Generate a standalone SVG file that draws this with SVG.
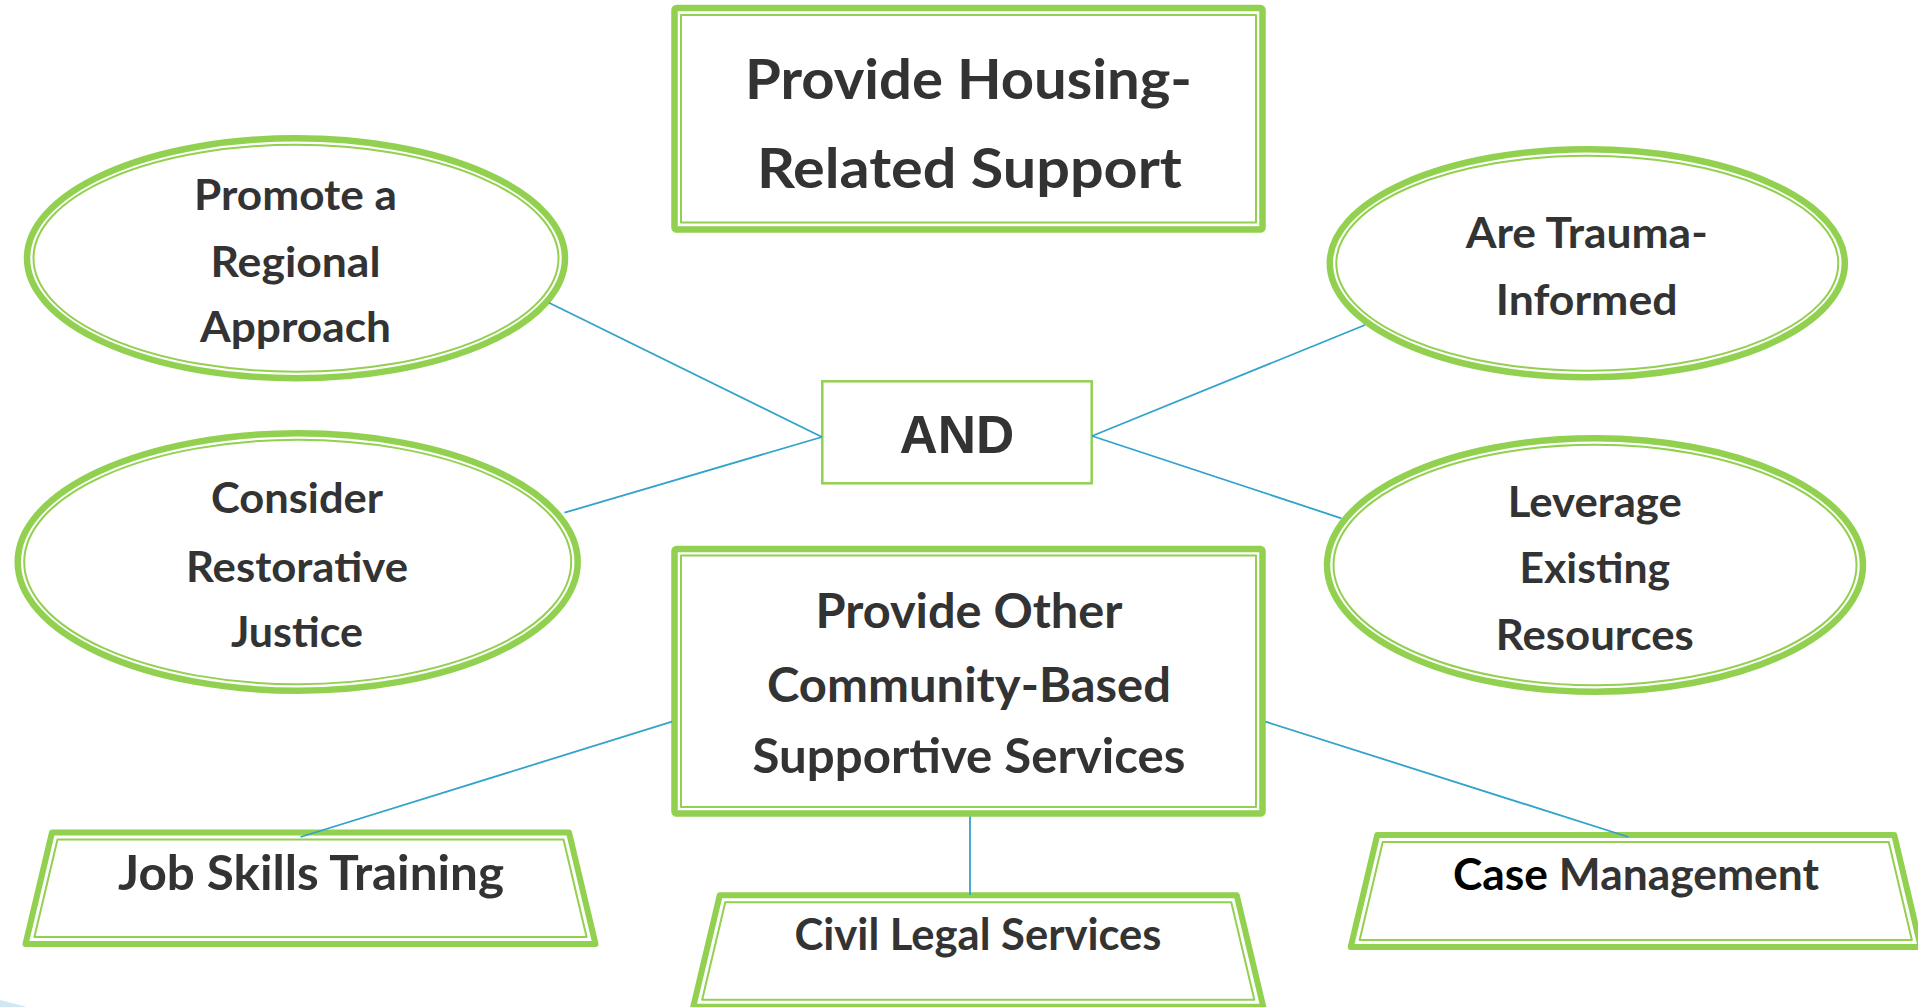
<svg xmlns="http://www.w3.org/2000/svg" width="1918" height="1007" viewBox="0 0 1918 1007">
<style>
 .outer{fill:#fff;stroke:#92D050;stroke-width:6.5;stroke-linejoin:round}
 .inner{fill:none;stroke:#92D050;stroke-width:2;stroke-linejoin:round}
 .trap{fill:#fff;stroke:#92D050;stroke-width:6;stroke-linejoin:round}
 .conn{stroke:#31A3CB;stroke-width:1.8;fill:none}
 .t{font-family:Lato,"Open Sans",sans-serif;font-weight:700;fill:#333333;text-anchor:middle}
 .and{font-family:"Liberation Sans",Arial,sans-serif;font-weight:700;font-size:53px;fill:#333333;text-anchor:middle}
</style>
<rect width="1918" height="1007" fill="#ffffff"/>
<polygon points="0,1000 27,1007 0,1007" fill="#CFE8F2"/>
<g id="node-housing">
 <rect class="outer" x="674.5" y="8" width="588" height="221.5" rx="2"/>
 <rect class="inner" x="681" y="15" width="575" height="207.5"/>
 <text class="t" font-size="56" x="968.5" y="99" textLength="447" lengthAdjust="spacingAndGlyphs">Provide Housing-</text>
 <text class="t" font-size="56" x="969.4" y="188.3" textLength="425" lengthAdjust="spacingAndGlyphs">Related Support</text>
</g>
<g id="node-regional">
 <ellipse class="outer" cx="296" cy="258.3" rx="269" ry="120"/>
 <ellipse class="inner" cx="296" cy="258.3" rx="262.5" ry="113.5"/>
 <text class="t" font-size="42" x="295.5" y="210" textLength="203" lengthAdjust="spacingAndGlyphs">Promote a</text>
 <text class="t" font-size="42" x="295.5" y="276.7" textLength="170" lengthAdjust="spacingAndGlyphs">Regional</text>
 <text class="t" font-size="42" x="295.5" y="341.7" textLength="191" lengthAdjust="spacingAndGlyphs">Approach</text>
</g>
<g id="node-restorative">
 <ellipse class="outer" cx="297.7" cy="562" rx="280" ry="128.7"/>
 <ellipse class="inner" cx="297.7" cy="562" rx="273.5" ry="122.2"/>
 <text class="t" font-size="42" x="297" y="513.3" textLength="172" lengthAdjust="spacingAndGlyphs">Consider</text>
 <text class="t" font-size="42" x="297" y="581.7" textLength="222" lengthAdjust="spacingAndGlyphs">Restorative</text>
 <text class="t" font-size="42" x="297" y="646.7" textLength="132" lengthAdjust="spacingAndGlyphs">Justice</text>
</g>
<g id="node-trauma">
 <ellipse class="outer" cx="1587.3" cy="263.3" rx="257.5" ry="114"/>
 <ellipse class="inner" cx="1587.3" cy="263.3" rx="251" ry="107.5"/>
 <text class="t" font-size="42" x="1586.7" y="248.3" textLength="242" lengthAdjust="spacingAndGlyphs">Are Trauma-</text>
 <text class="t" font-size="42" x="1586.7" y="315" textLength="181.7" lengthAdjust="spacingAndGlyphs">Informed</text>
</g>
<g id="node-leverage">
 <ellipse class="outer" cx="1595" cy="565" rx="268" ry="126.7"/>
 <ellipse class="inner" cx="1595" cy="565" rx="261.5" ry="120.2"/>
 <text class="t" font-size="42" x="1594.8" y="516.7" textLength="174" lengthAdjust="spacingAndGlyphs">Leverage</text>
 <text class="t" font-size="42" x="1594.8" y="583.3" textLength="150.6" lengthAdjust="spacingAndGlyphs">Existing</text>
 <text class="t" font-size="42" x="1594.8" y="650" textLength="198" lengthAdjust="spacingAndGlyphs">Resources</text>
</g>
<g id="node-and">
 <rect x="822.3" y="381.3" width="269.4" height="102" fill="#fff" stroke="#92D050" stroke-width="2.5"/>
 <text class="and" x="956.8" y="453.3">AND</text>
</g>
<g id="node-other">
 <rect class="outer" x="674.5" y="549" width="588" height="264.5" rx="2"/>
 <rect class="inner" x="681" y="555.5" width="575" height="251.5"/>
 <text class="t" font-size="47" x="969" y="628.3" textLength="307" lengthAdjust="spacingAndGlyphs">Provide Other</text>
 <text class="t" font-size="47" x="969" y="701.7" textLength="404" lengthAdjust="spacingAndGlyphs">Community-Based</text>
 <text class="t" font-size="47" x="969" y="773.3" textLength="433" lengthAdjust="spacingAndGlyphs">Supportive Services</text>
</g>
<g id="node-job">
 <polygon class="trap" points="52,832.5 569,832.5 595.5,944 25.5,944"/>
 <polygon class="inner" points="57.5,839.5 563.5,839.5 586.6,937 34.4,937"/>
 <text class="t" font-size="47" x="311" y="890" textLength="386" lengthAdjust="spacingAndGlyphs">Job Skills Training</text>
</g>
<g id="node-civil">
 <polygon class="trap" points="719.75,895.2 1236.75,895.2 1263.25,1006.7 693.25,1006.7"/>
 <polygon class="inner" points="725.25,902.2 1231.25,902.2 1254.35,999.7 702.15,999.7"/>
 <text class="t" font-size="43" x="978" y="950" textLength="367" lengthAdjust="spacingAndGlyphs">Civil Legal Services</text>
</g>
<g id="node-case">
 <polygon class="trap" points="1377.25,835 1894.25,835 1920.75,947 1350.75,947"/>
 <polygon class="inner" points="1382.75,842 1888.75,842 1911.85,940 1359.65,940"/>
 <text class="t" font-size="43" x="1636" y="890" textLength="366" lengthAdjust="spacingAndGlyphs"><tspan fill="#000000">Case</tspan> Management</text>
</g>
<g id="connectors">
 <line class="conn" x1="549" y1="302.7" x2="822" y2="437"/>
 <line class="conn" x1="564.5" y1="512.7" x2="822" y2="437"/>
 <line class="conn" x1="1092" y1="436" x2="1365" y2="325"/>
 <line class="conn" x1="1092" y1="436" x2="1341.4" y2="518.3"/>
 <line class="conn" x1="672" y1="721.7" x2="300.5" y2="837"/>
 <line class="conn" x1="1265.5" y1="721.7" x2="1628.5" y2="837"/>
 <line class="conn" x1="970" y1="816.5" x2="970" y2="895"/>
</g>
</svg>
